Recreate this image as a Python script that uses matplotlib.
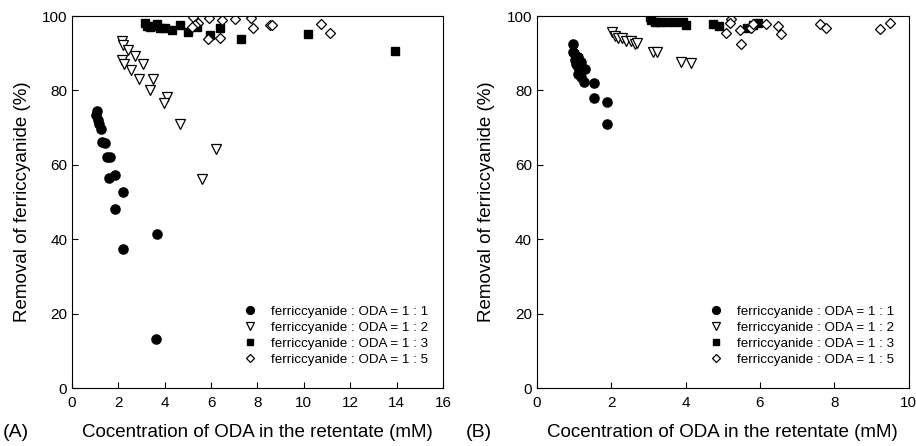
import numpy as np
import matplotlib.pyplot as plt

plt.rcParams['font.family'] = ['Liberation Sans', 'DejaVu Sans']

# panel A
a11_x = [1.06, 1.05, 1.13, 1.15, 1.24, 1.28, 1.42, 1.5, 1.63, 1.61, 1.85, 1.85, 2.21, 2.21, 3.68, 3.62]
a11_y = [74.5, 73.5, 72, 71, 69.6, 66.2, 66.0, 62.2, 62.2, 56.4, 57.4, 48, 52.6, 37.4, 41.4, 13.2]
a12_x = [2.14, 2.21, 2.43, 2.72, 2.14, 2.24, 2.53, 3.07, 2.9, 3.5, 3.36, 4.08, 3.98, 4.66, 6.19, 5.59]
a12_y = [93.3, 92.2, 90.9, 89.2, 88.3, 87, 85.5, 87, 83.2, 83.2, 80.1, 78.3, 76.5, 71, 64.2, 56.1]
a13_x = [3.15, 3.22, 3.36, 3.58, 3.68, 3.79, 4.0, 4.3, 4.66, 5.01, 5.37, 5.95, 6.38, 7.31, 10.19, 13.92]
a13_y = [98, 97.3, 97.1, 97.3, 97.8, 96.7, 96.7, 96.2, 97.6, 95.6, 97.1, 94.9, 96.7, 93.7, 95.2, 90.6]
a15_x = [5.23, 5.44, 5.3, 5.16, 5.92, 6.45, 7.03, 7.74, 7.81, 8.53, 8.62, 5.88, 6.38, 10.72, 11.12]
a15_y = [99.8, 98.2, 97.6, 97.1, 99.6, 98.9, 99.1, 99.6, 96.9, 97.6, 97.5, 93.7, 94.0, 97.8, 95.5]

# panel B
b11_x = [0.98, 0.98, 1.02, 1.11, 1.2, 1.11, 1.29, 1.2, 1.27, 1.54, 1.53, 1.89, 1.89, 1.05, 1.15, 1.0, 1.1]
b11_y = [92.4, 90.4, 88.2, 89.1, 87.7, 86.4, 85.9, 83.7, 82.2, 81.9, 77.9, 76.8, 70.9, 87, 85, 90, 84.5]
b12_x = [2.01, 2.1, 2.19, 2.3, 2.41, 2.54, 2.63, 2.7, 3.13, 3.24, 3.89, 4.16]
b12_y = [95.8, 94.6, 94, 94, 93.4, 93.3, 92.4, 92.8, 90.4, 90.4, 87.7, 87.5]
b13_x = [3.04, 3.08, 3.17, 3.31, 3.49, 3.71, 3.93, 4.02, 4.74, 4.89, 5.64, 5.82, 5.95]
b13_y = [99.8, 99, 98.5, 98.3, 98.3, 98.5, 98.3, 97.6, 97.9, 97.4, 96.7, 97.6, 98.2]
b15_x = [5.21, 5.19, 5.08, 5.46, 5.5, 5.77, 5.82, 6.16, 6.49, 6.58, 7.61, 7.79, 9.24, 9.51]
b15_y = [99.2, 98.2, 95.5, 96.2, 92.4, 96.7, 97.8, 97.8, 97.3, 95.1, 97.8, 96.9, 96.4, 98.2]

labels = ["ferriccyanide : ODA = 1 : 1", "ferriccyanide : ODA = 1 : 2",
          "ferriccyanide : ODA = 1 : 3", "ferriccyanide : ODA = 1 : 5"]

fig = plt.figure(figsize=(9.16, 4.46), dpi=100)
axA = fig.add_axes([0.0786, 0.130, 0.405, 0.834])
axB = fig.add_axes([0.586, 0.130, 0.406, 0.834])


def draw(ax, series, xmax):
    styles = [dict(marker='o', mfc='black', mec='black', ms=6.6),
              dict(marker='v', mfc='white', mec='black', ms=6.8, mew=0.9),
              dict(marker='s', mfc='black', mec='black', ms=5.8),
              dict(marker='D', mfc='white', mec='black', ms=5.3, mew=0.9)]
    for (x, y), st, lab in zip(series, styles, labels):
        ax.plot(x, y, linestyle='none', label=lab, **st)
    ax.set_xlim(0, xmax)
    ax.set_ylim(0, 100)
    ax.set_xticks(np.arange(0, xmax + 1, 2))
    ax.set_yticks(np.arange(0, 101, 20))
    ax.tick_params(direction='in', length=4, labelsize=11, top=False, right=False)
    ax.tick_params(axis='x', pad=6)
    ax.set_xlabel("Cocentration of ODA in the retentate (mM)", fontsize=13.5, labelpad=10)
    ax.set_ylabel("Removal of ferriccyanide (%)", fontsize=13.5, labelpad=8)
    ax.legend(loc='lower right', bbox_to_anchor=(0.975, 0.045), frameon=False,
              fontsize=9.6, handlelength=1.2, handletextpad=1.0, labelspacing=0.27,
              borderaxespad=0, markerscale=0.85)


draw(axA, [(a11_x, a11_y), (a12_x, a12_y), (a13_x, a13_y), (a15_x, a15_y)], 16)
draw(axB, [(b11_x, b11_y), (b12_x, b12_y), (b13_x, b13_y), (b15_x, b15_y)], 10)

fig.text(0.003, 0.02, "(A)", fontsize=14)
fig.text(0.508, 0.02, "(B)", fontsize=14)

fig.savefig("out.png", dpi=100)
